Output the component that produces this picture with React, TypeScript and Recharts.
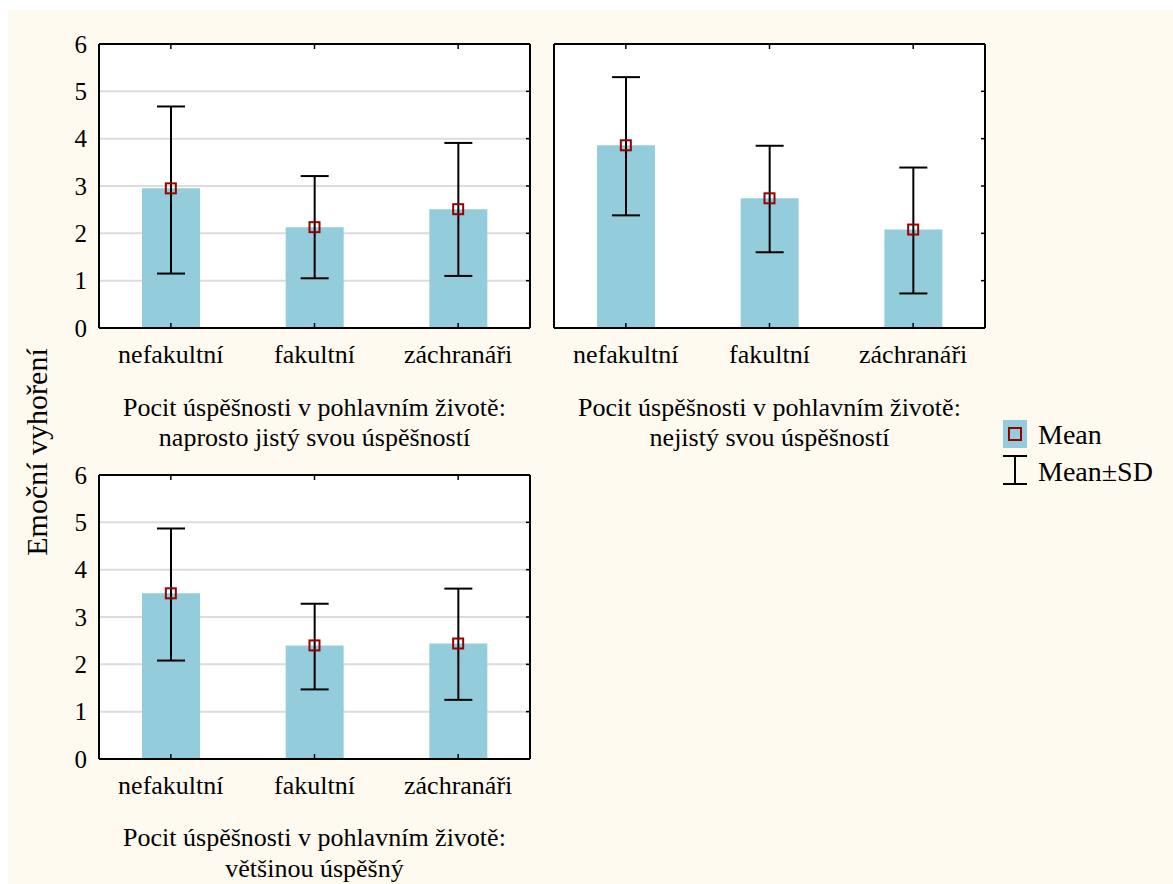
import React from 'react';
import { ComposedChart, Bar, Line, XAxis, YAxis, CartesianGrid, ErrorBar } from 'recharts';

const categories = ['nefakultní', 'fakultní', 'záchranáři'];
const yTicks = [0, 1, 2, 3, 4, 5, 6];

const means1 = [2.95, 2.13, 2.51];
const upper1 = [4.68, 3.21, 3.91];
const lower1 = [1.15, 1.05, 1.1];

const means2 = [3.86, 2.74, 2.08];
const upper2 = [5.3, 3.85, 3.39];
const lower2 = [2.38, 1.6, 0.73];

const means3 = [3.5, 2.4, 2.44];
const upper3 = [4.87, 3.28, 3.6];
const lower3 = [2.08, 1.47, 1.25];

const titleLine1 = 'Pocit úspěšnosti v pohlavním životě:';
const titleLines2 = ['naprosto jistý svou úspěšností', 'nejistý svou úspěšností', 'většinou úspěšný'];
const yAxisLabel = 'Emoční vyhoření';
const legendLabels = ['Mean', 'Mean±SD'];

const FONT = '"Liberation Serif", "Times New Roman", serif';
const BAR_COLOR = '#93cddb';
const MARK_COLOR = '#990000';
const CREAM = '#fffaef';

function buildData(m: number[], hi: number[], lo: number[]) {
  return categories.map((cat, i) => ({
    cat,
    mean: m[i],
    err: [m[i] - lo[i], hi[i] - m[i]],
  }));
}

const data1 = buildData(means1, upper1, lower1);
const data2 = buildData(means2, upper2, lower2);
const data3 = buildData(means3, upper3, lower3);

const BottomTick = (props: any) => {
  const { x, y, payload } = props;
  return (
    <g>
      <line x1={x} x2={x} y1={y} y2={y - 5} stroke="#000" strokeWidth={1.5} />
      <text x={x} y={y + 35} textAnchor="middle" fontSize={26} fontFamily={FONT} fill="#000">
        {payload.value}
      </text>
    </g>
  );
};

const TopTick = (props: any) => {
  const { x, y } = props;
  return <line x1={x} x2={x} y1={y} y2={y + 5} stroke="#000" strokeWidth={1.5} />;
};

const RightTick = (props: any) => {
  const { x, y } = props;
  return <line x1={x} x2={x - 4} y1={y} y2={y} stroke="#000" strokeWidth={1.5} />;
};

const LeftTick = (props: any) => {
  const { x, y, payload } = props;
  return (
    <text x={x} y={y + 8.5} textAnchor="end" fontSize={25} fontFamily={FONT} fill="#000">
      {payload.value}
    </text>
  );
};

const MarkerDot = (props: any) => {
  const { cx, cy, index } = props;
  if (cx == null || cy == null) return <g key={`d${index}`} />;
  return (
    <rect
      key={`d${index}`}
      x={cx - 5}
      y={cy - 5}
      width={10}
      height={10}
      fill="none"
      stroke={MARK_COLOR}
      strokeWidth={2}
    />
  );
};

const axisLine = { stroke: '#000', strokeWidth: 2 };

function Panel({ left, top, data, showY }: { left: number; top: number; data: any[]; showY: boolean }) {
  return (
    <div style={{ position: 'absolute', left, top }}>
      <ComposedChart width={491} height={364} data={data} margin={{ top: 0, right: 0, bottom: 0, left: 0 }}>
        <CartesianGrid vertical={false} stroke="#dcdcdc" strokeWidth={2} fill="#ffffff" fillOpacity={1} />
        <XAxis
          dataKey="cat"
          height={60}
          tickSize={0}
          tickMargin={0}
          tickLine={false}
          interval={0}
          axisLine={axisLine}
          tick={<BottomTick />}
        />
        <XAxis
          xAxisId="t"
          dataKey="cat"
          orientation="top"
          height={20}
          tickSize={0}
          tickMargin={0}
          tickLine={false}
          interval={0}
          axisLine={axisLine}
          tick={<TopTick />}
        />
        <YAxis
          type="number"
          domain={[0, 6]}
          ticks={yTicks}
          width={50}
          tickSize={0}
          tickMargin={12}
          tickLine={false}
          interval={0}
          allowDataOverflow
          axisLine={axisLine}
          tick={showY ? <LeftTick /> : false}
        />
        <YAxis
          yAxisId="r"
          orientation="right"
          type="number"
          domain={[0, 6]}
          ticks={yTicks}
          width={10}
          tickSize={0}
          tickMargin={0}
          tickLine={false}
          interval={0}
          allowDataOverflow
          axisLine={axisLine}
          tick={<RightTick />}
        />
        <Bar dataKey="mean" fill={BAR_COLOR} barSize={58} isAnimationActive={false}>
          <ErrorBar dataKey="err" width={14} stroke="#000" strokeWidth={2} direction="y" />
        </Bar>
        <Line
          xAxisId="t"
          yAxisId="r"
          dataKey="mean"
          stroke="none"
          dot={MarkerDot}
          activeDot={false}
          isAnimationActive={false}
        />
      </ComposedChart>
    </div>
  );
}

export default function App() {
  return (
    <div style={{ fontFamily: FONT }}>
      <div
        style={{ position: 'absolute', left: 8, top: 10, width: 1165, height: 874, background: CREAM }}
      />
      <Panel left={49} top={24} data={data1} showY={true} />
      <Panel left={504} top={24} data={data2} showY={false} />
      <Panel left={49} top={455} data={data3} showY={true} />
      <svg
        width={1173}
        height={884}
        style={{ position: 'absolute', left: 0, top: 0, pointerEvents: 'none' }}
      >
        <g fontFamily={FONT} fill="#000">
          <text x={314.5} y={416} textAnchor="middle" fontSize={26}>{titleLine1}</text>
          <text x={314.5} y={446} textAnchor="middle" fontSize={26}>{titleLines2[0]}</text>
          <text x={769.5} y={416} textAnchor="middle" fontSize={26}>{titleLine1}</text>
          <text x={769.5} y={446} textAnchor="middle" fontSize={26}>{titleLines2[1]}</text>
          <text x={314.5} y={846} textAnchor="middle" fontSize={26}>{titleLine1}</text>
          <text x={314.5} y={877} textAnchor="middle" fontSize={26}>{titleLines2[2]}</text>
          <text
            x={47}
            y={452}
            textAnchor="middle"
            fontSize={30}
            transform="rotate(-90 47 452)"
          >
            {yAxisLabel}
          </text>
          <rect x={1003} y={420} width={24} height={28} fill={BAR_COLOR} />
          <rect x={1009} y={428} width={12} height={12} fill="none" stroke={MARK_COLOR} strokeWidth={2} />
          <text x={1038} y={444} fontSize={28}>{legendLabels[0]}</text>
          <line x1={1015} x2={1015} y1={456} y2={484} stroke="#000" strokeWidth={2} />
          <line x1={1003} x2={1027} y1={456} y2={456} stroke="#000" strokeWidth={2} />
          <line x1={1003} x2={1027} y1={484} y2={484} stroke="#000" strokeWidth={2} />
          <text x={1038} y={481} fontSize={28}>{legendLabels[1]}</text>
        </g>
      </svg>
    </div>
  );
}
